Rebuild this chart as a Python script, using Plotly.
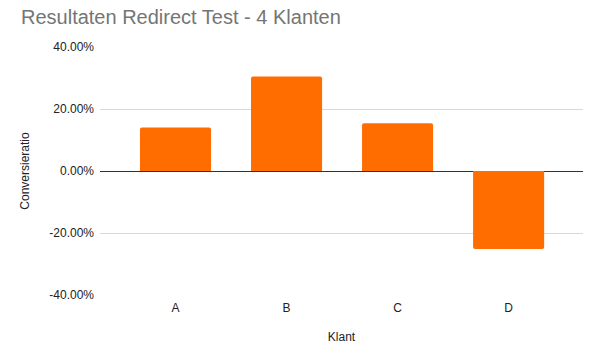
import plotly.graph_objects as go

categories = ["A", "B", "C", "D"]
values = [0.140, 0.305, 0.154, -0.252]
y_ticks = [-0.4, -0.2, 0.0, 0.2, 0.4]
y_tick_labels = ["-40.00%", "-20.00%", "0.00%", "20.00%", "40.00%"]

font_fam = "Arial, Liberation Sans, sans-serif"

fig = go.Figure(go.Bar(
    x=categories, y=values,
    marker=dict(color="#ff6d01", line=dict(width=0)),
))

fig.update_layout(
    width=600, height=357,
    margin=dict(l=100, r=17, t=47, b=62),
    paper_bgcolor="white", plot_bgcolor="white",
    bargap=0.36,
    barcornerradius=2,
    showlegend=False,
    font=dict(family=font_fam, size=12, color="#222222"),
    title=dict(
        text="Resultaten Redirect Test - 4 Klanten",
        font=dict(family=font_fam, size=20, color="#757575"),
        x=21/600, xanchor="left", xref="container",
        y=1 - 10/357, yanchor="top", yref="container",
    ),
    xaxis=dict(
        range=[-0.68, 3.67],
        showgrid=False, zeroline=False, showline=False,
        ticks="", ticklabelstandoff=4,
        tickfont=dict(size=12, color="#222222"),
        title=dict(text="Klant", font=dict(size=12, color="#222222"), standoff=18),
    ),
    yaxis=dict(
        range=[-0.4, 0.4],
        tickvals=y_ticks, ticktext=y_tick_labels,
        showgrid=True, gridcolor="#d9d9d9", gridwidth=1,
        zeroline=True, zerolinecolor="#333333", zerolinewidth=1,
        showline=False, ticks="", ticklabelstandoff=5,
        tickfont=dict(size=12, color="#222222"),
        title=dict(text="Conversieratio", font=dict(size=12, color="#222222"), standoff=17),
    ),
)

fig.write_html("out.html", config={"displayModeBar": False},
               post_script="document.body.style.margin='0';")
